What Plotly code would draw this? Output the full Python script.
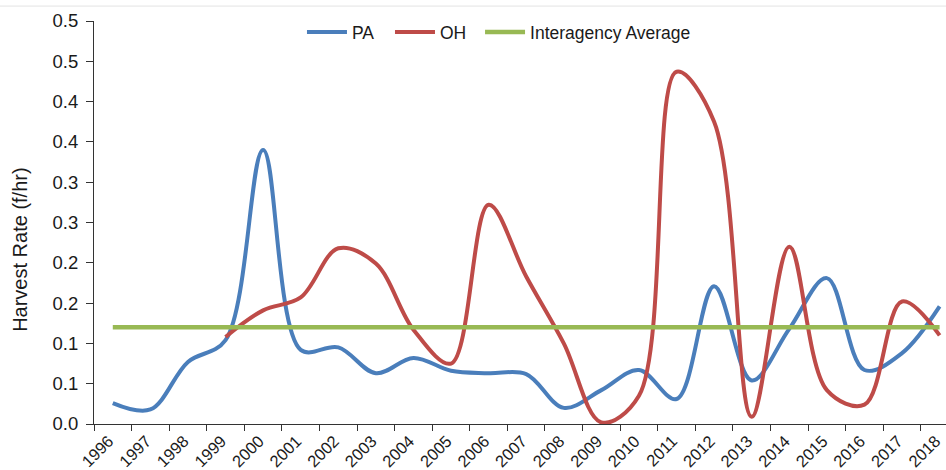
import plotly.graph_objects as go

# Harvest rate (fish per hour) by year
years = [str(y) for y in range(1996, 2019)]
pa_rate = [0.026, 0.018, 0.077, 0.104, 0.340, 0.092, 0.095, 0.063, 0.082, 0.066,
           0.063, 0.062, 0.020, 0.042, 0.067, 0.031, 0.171, 0.054, 0.118, 0.181,
           0.067, 0.088, 0.146]
oh_rate = [None, None, None, 0.108, 0.141, 0.157, 0.218, 0.199, 0.117, 0.075,
           0.272, 0.183, 0.100, 0.002, 0.035, 0.437, 0.375, 0.009, 0.220, 0.042,
           0.024, 0.152, 0.110]
interagency_avg = [0.12] * len(years)

y_tickvals = [0.0, 0.05, 0.10, 0.15, 0.20, 0.25, 0.30, 0.35, 0.40, 0.45, 0.50]
y_ticktext = ["0.0", "0.1", "0.1", "0.2", "0.2", "0.3", "0.3", "0.4", "0.4", "0.5", "0.5"]

FONT = "Liberation Sans, Arial, sans-serif"
TEXT = "#1a1a1a"

fig = go.Figure()
fig.add_trace(go.Scatter(
    x=years, y=pa_rate, name="PA", mode="lines", legend="legend",
    line=dict(color="#4A7EBB", width=4, shape="spline", smoothing=1.0),
))
fig.add_trace(go.Scatter(
    x=years, y=oh_rate, name="OH", mode="lines", legend="legend2",
    line=dict(color="#BE4B48", width=4, shape="spline", smoothing=1.0),
))
fig.add_trace(go.Scatter(
    x=years, y=interagency_avg, name="Interagency Average", mode="lines",
    legend="legend3",
    line=dict(color="#98B954", width=4.5),
))


def legend_box(x):
    return dict(
        orientation="h", x=x, y=1.017, xanchor="left", yanchor="top",
        font=dict(size=17.5, family=FONT, color=TEXT),
        bgcolor="rgba(255,255,255,0)", itemwidth=40,
    )


fig.update_layout(
    width=946, height=470,
    margin=dict(l=94, r=0, t=21, b=46),
    paper_bgcolor="white", plot_bgcolor="white",
    font=dict(family=FONT, color=TEXT),
    showlegend=True,
    legend=legend_box(0.2441),
    legend2=legend_box(0.3474),
    legend3=legend_box(0.4531),
    xaxis=dict(
        type="category", range=[-0.5, 22.17], automargin=False,
        tickson="boundaries", ticks="outside", ticklen=6, tickcolor="#333",
        showline=True, linecolor="#333", linewidth=1,
        showgrid=False, zeroline=False,
        tickangle=-45, ticklabelshift=-4,
        tickfont=dict(size=16.5, family=FONT, color=TEXT),
    ),
    yaxis=dict(
        range=[0, 0.5], tickvals=y_tickvals, ticktext=y_ticktext,
        automargin=False,
        ticks="outside", ticklen=7, tickcolor="#333",
        showline=True, linecolor="#333", linewidth=1,
        showgrid=False, zeroline=False,
        tickfont=dict(size=18.5, family=FONT, color=TEXT),
        ticklabelstandoff=4,
    ),
    annotations=[dict(
        text="Harvest Rate (f/hr)", textangle=-90,
        xref="paper", yref="paper", x=-0.0869, y=0.432,
        xanchor="center", yanchor="middle", showarrow=False,
        font=dict(size=20, family=FONT, color=TEXT),
    )],
    shapes=[dict(type="line", xref="paper", yref="paper",
                 x0=-0.12, x1=1.0, y0=1.037, y1=1.037,
                 line=dict(color="#e3e3e3", width=1))],
)

fig.write_html("out.html")
